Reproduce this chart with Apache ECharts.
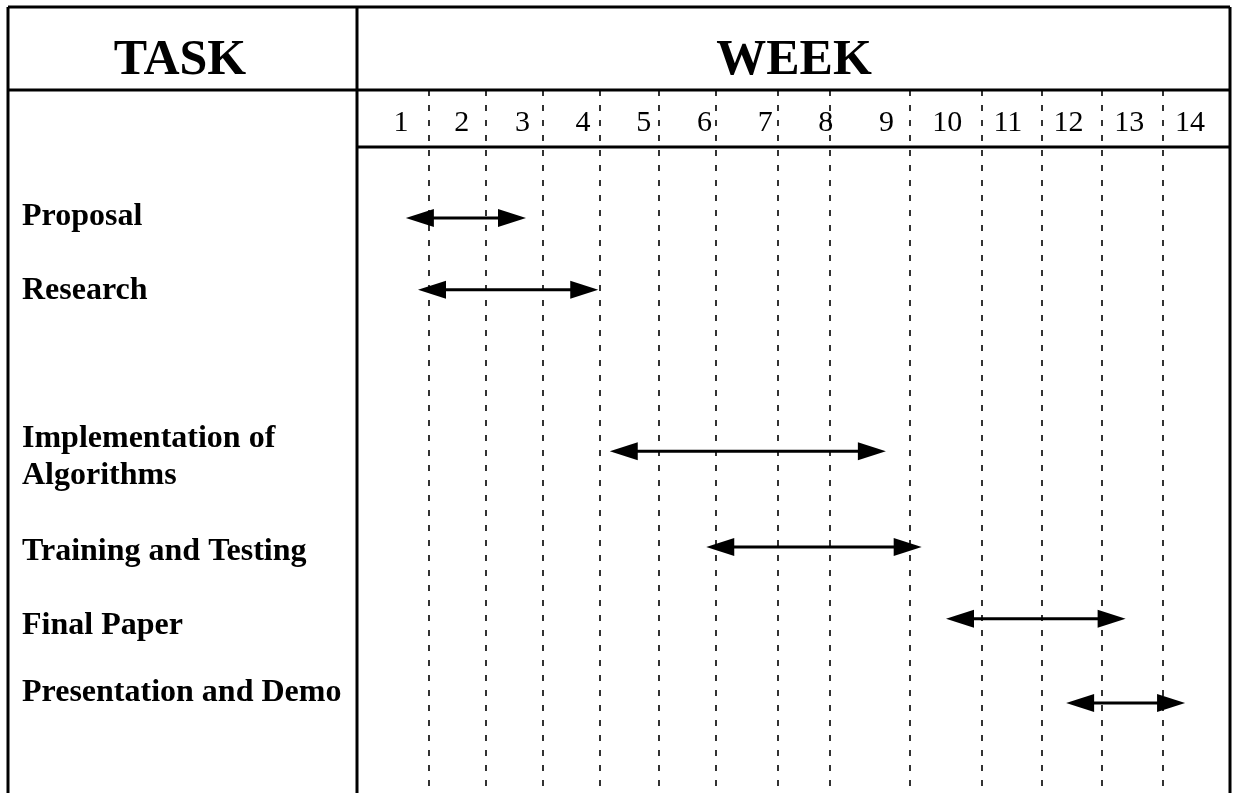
<!DOCTYPE html>
<html>
<head>
<meta charset="utf-8">
<style>
  html, body { margin: 0; padding: 0; background: #fff; }
  #chart { width: 1235px; height: 793px; }
</style>
<script src="https://cdn.jsdelivr.net/npm/echarts@6.0.0/dist/echarts.min.js"></script>
</head>
<body>
<div id="chart"></div>
<script>
// Week schedule data (x in weeks, y in row units)
const weeks = [1, 2, 3, 4, 5, 6, 7, 8, 9, 10, 11, 12, 13, 14];
const weekDividers = [1.445, 2.40, 3.34, 4.28, 5.235, 6.19, 7.21, 8.07, 9.39, 10.57, 11.56, 12.55, 13.56];
const tasks = ['Proposal', 'Research', 'Implementation of\nAlgorithms', 'Training and Testing', 'Final Paper', 'Presentation and Demo'];
const taskStart = [1.08, 1.28, 4.44, 6.03, 9.98, 11.96];
const taskEnd = [3.06, 4.25, 8.99, 9.58, 12.94, 13.92];
const arrowRow = [1.82, 2.84, 5.14, 6.5, 7.52, 8.72];
const labelRow = [1.80, 2.86, 5.23, 6.57, 7.62, 8.57];

const FONT = "'Liberation Serif', 'Times New Roman', serif";

const chart = echarts.init(document.getElementById('chart'));

function renderArrow(params, api) {
  const y = api.value(2);
  const a = api.coord([api.value(0), y]);
  const b = api.coord([api.value(1), y]);
  const L = 28, h = 9;
  return {
    type: 'group',
    children: [
      { type: 'line', shape: { x1: a[0] + L - 2, y1: a[1], x2: b[0] - L + 2, y2: b[1] },
        style: { stroke: '#000', lineWidth: 3 } },
      { type: 'polygon', shape: { points: [[a[0], a[1]], [a[0] + L, a[1] - h], [a[0] + L, a[1] + h]] },
        style: { fill: '#000' } },
      { type: 'polygon', shape: { points: [[b[0], b[1]], [b[0] - L, b[1] - h], [b[0] - L, b[1] + h]] },
        style: { fill: '#000' } }
    ]
  };
}

function renderLabel(params, api) {
  const p = api.coord([0, api.value(0)]);
  return {
    type: 'text',
    x: p[0],
    y: p[1],
    style: {
      text: tasks[params.dataIndex],
      fontFamily: FONT,
      fontWeight: 'bold',
      fontSize: 32,
      lineHeight: 37,
      fill: '#000',
      align: 'left',
      verticalAlign: 'middle'
    }
  };
}

function hLine(x1, y1, x2, y2) {
  return { type: 'line', shape: { x1, y1, x2, y2 }, style: { stroke: '#000', lineWidth: 3 }, z: 10 };
}

const option = {
  animation: false,
  backgroundColor: '#fff',
  grid: [
    { left: 22, width: 330, top: 90, bottom: 0 },
    { left: 357, right: 5, top: 90, bottom: 0 }
  ],
  xAxis: [
    { gridIndex: 0, type: 'value', min: 0, max: 1, show: false },
    {
      gridIndex: 1,
      type: 'value',
      min: 0.275,
      max: 14.66,
      position: 'top',
      axisLine: { show: false },
      axisTick: { show: false },
      splitLine: { show: false },
      axisLabel: {
        customValues: weeks,
        inside: true,
        margin: 18,
        fontFamily: FONT,
        fontSize: 30,
        color: '#000'
      }
    }
  ],
  yAxis: [
    { gridIndex: 0, type: 'value', min: 0, max: 10, inverse: true, show: false },
    { gridIndex: 1, type: 'value', min: 0, max: 10, inverse: true, show: false }
  ],
  graphic: [
    hLine(8, 7, 1230, 7),
    hLine(8, 7, 8, 793),
    hLine(1230, 7, 1230, 793),
    hLine(357, 7, 357, 793),
    hLine(8, 90, 1230, 90),
    hLine(357, 147, 1230, 147),
    { type: 'text', x: 180, y: 61, z: 10,
      style: { text: 'TASK', fontFamily: FONT, fontWeight: 'bold', fontSize: 50, fill: '#000', align: 'center', verticalAlign: 'middle' } },
    { type: 'text', x: 794, y: 61, z: 10,
      style: { text: 'WEEK', fontFamily: FONT, fontWeight: 'bold', fontSize: 50, fill: '#000', align: 'center', verticalAlign: 'middle' } }
  ],
  series: [
    {
      type: 'line',
      xAxisIndex: 1,
      yAxisIndex: 1,
      data: [],
      markLine: {
        silent: true,
        symbol: 'none',
        label: { show: false },
        lineStyle: { type: [6, 9], width: 1.6, color: '#000' },
        data: weekDividers.map(v => ({ xAxis: v }))
      }
    },
    {
      type: 'custom',
      xAxisIndex: 1,
      yAxisIndex: 1,
      renderItem: renderArrow,
      encode: { x: [0, 1], y: 2 },
      data: tasks.map((t, i) => [taskStart[i], taskEnd[i], arrowRow[i]])
    },
    {
      type: 'custom',
      xAxisIndex: 0,
      yAxisIndex: 0,
      renderItem: renderLabel,
      encode: { y: 0 },
      data: labelRow.map(v => [v])
    }
  ]
};

chart.setOption(option);
window.addEventListener('resize', () => chart.resize());
</script>
</body>
</html>
